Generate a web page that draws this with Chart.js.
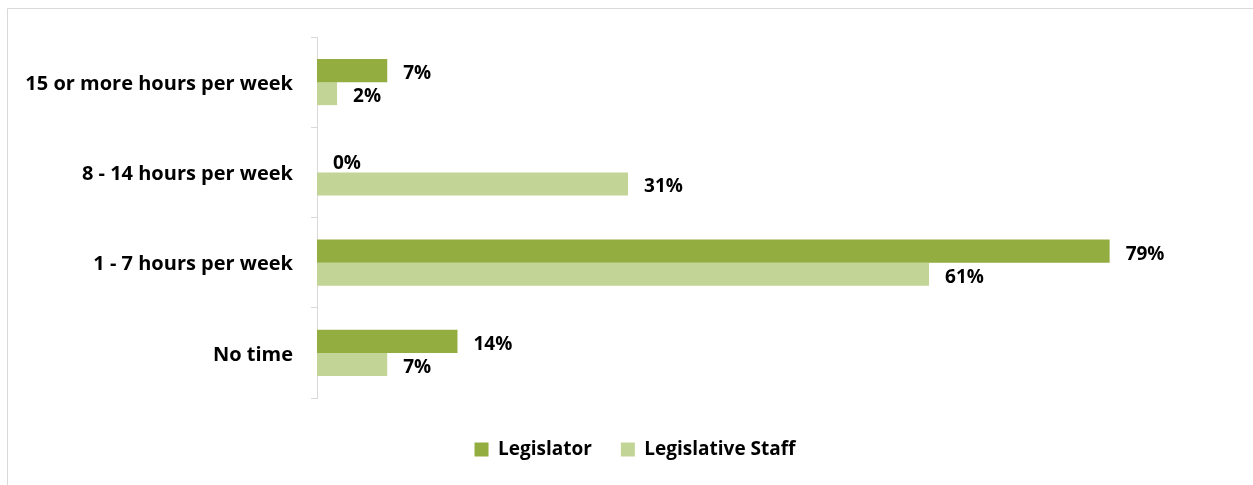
<!DOCTYPE html>
<html>
<head>
<meta charset="utf-8">
<script src="https://cdn.jsdelivr.net/npm/chart.js@4"></script>
<style>
  html,body{margin:0;padding:0;background:#fff;}
  #wrap{width:1253px;height:485px;position:relative;}
</style>
</head>
<body>
<div id="wrap"><canvas id="chart" width="1253" height="485"></canvas></div>
<script>
const categories=["15 or more hours per week","8 - 14 hours per week","1 - 7 hours per week","No time"];
const legislator=[7,0,79,14];
const staff=[2,31,61,7];
const seriesNames=["Legislator","Legislative Staff"];

const FONT="'Open Sans', sans-serif";

// outer frame (only top + left edges show in the picture)
const framePlugin={
    id:'frame',
    beforeDraw:(chart)=>{
        const c=chart.ctx;
        c.save();
        c.fillStyle='#fff';
        c.fillRect(0,0,chart.width,chart.height);
        c.strokeStyle='#d9d9d9';
        c.lineWidth=1;
        c.beginPath();
        c.moveTo(7.5,chart.height);
        c.lineTo(7.5,8.5);
        c.lineTo(chart.width,8.5);
        c.stroke();
        c.restore();
    }
};

// legend sits centred on the whole frame, not just the plot width
const legendShift={
    id:'legendShift',
    afterLayout:(chart)=>{
        chart.legend.left+=25;
        chart.legend.right+=25;
    }
};

// value labels at bar ends
const valuePlugin={
    id:'values',
    afterDatasetsDraw:(chart)=>{
        const c=chart.ctx;
        c.save();
        c.font="bold 19px "+FONT;
        c.fillStyle='#000';
        c.textAlign='left';
        c.textBaseline='middle';
        chart.data.datasets.forEach((ds,i)=>{
            chart.getDatasetMeta(i).data.forEach((bar,j)=>{
                c.fillText(ds.data[j]+'%',bar.x+16,bar.y+3);
            });
        });
        c.restore();
    }
};

new Chart(document.getElementById('chart'),{
    type:'bar',
    data:{
        labels:categories,
        datasets:[
            {label:seriesNames[0],data:legislator,backgroundColor:'#93ad41',categoryPercentage:0.51,barPercentage:1.0},
            {label:seriesNames[1],data:staff,backgroundColor:'#c2d596',categoryPercentage:0.51,barPercentage:1.0}
        ]
    },
    options:{
        indexAxis:'y',
        responsive:false,
        animation:false,
        layout:{padding:{left:0,right:33,top:37,bottom:16}},
        scales:{
            x:{
                min:0,max:90,
                ticks:{display:false},
                grid:{display:false},
                border:{display:false},
                afterFit:(s)=>{s.height=13;}
            },
            y:{
                grid:{drawOnChartArea:false,color:'#d9d9d9',tickLength:6},
                border:{color:'#d9d9d9'},
                ticks:{color:'#000',padding:18,labelOffset:2,font:{family:FONT,size:20,weight:'bold'}},
                afterFit:(s)=>{s.width=317;}
            }
        },
        plugins:{
            legend:{
                position:'bottom',
                labels:{
                    boxWidth:14,boxHeight:14,padding:29,color:'#000',
                    font:{family:FONT,size:19,weight:'bold'}
                }
            },
            tooltip:{enabled:false}
        }
    },
    plugins:[framePlugin,legendShift,valuePlugin]
});
</script>
</body>
</html>
